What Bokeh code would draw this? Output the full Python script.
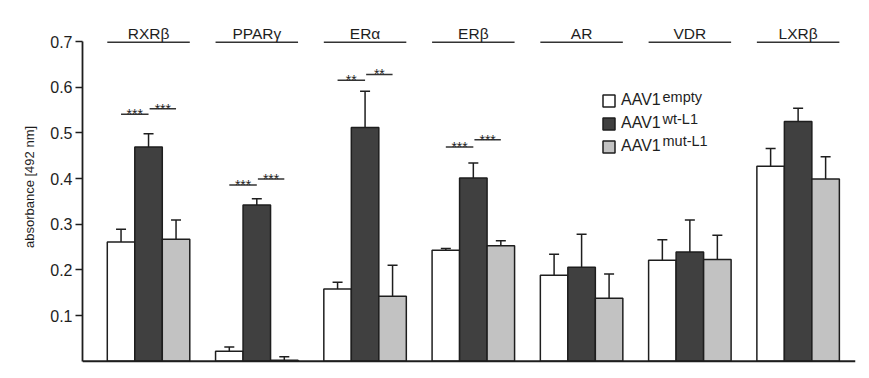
from bokeh.plotting import figure
from bokeh.models import (ColumnDataSource, Whisker, TeeHead, Span, Label, Legend,
                          LegendItem, FixedTicker, Range1d)
from bokeh.embed import file_html
from bokeh.resources import INLINE
from bokeh.core.properties import value

# ---- data ----
receptors = ["RXRβ", "PPARγ", "ERα", "ERβ", "AR", "VDR", "LXRβ"]
series_names = ["empty", "wt-L1", "mut-L1"]
empty_mean = [0.261, 0.022, 0.158, 0.243, 0.188, 0.221, 0.427]
empty_err = [0.028, 0.009, 0.015, 0.004, 0.046, 0.045, 0.039]
wt_mean = [0.469, 0.342, 0.512, 0.401, 0.206, 0.239, 0.525]
wt_err = [0.029, 0.014, 0.079, 0.033, 0.072, 0.070, 0.029]
mut_mean = [0.267, 0.002, 0.142, 0.253, 0.138, 0.223, 0.399]
mut_err = [0.042, 0.008, 0.068, 0.011, 0.053, 0.053, 0.049]

# significance brackets: group index, pair (0 = empty-wt, 1 = wt-mut), height, label
sig_group = [0, 0, 1, 1, 2, 2, 3, 3]
sig_pair = [0, 1, 0, 1, 0, 1, 0, 1]
sig_y = [0.541, 0.553, 0.386, 0.399, 0.615, 0.628, 0.469, 0.485]
sig_label = ["***", "***", "***", "***", "**", "**", "***", "***"]

y_ticks = [0.1, 0.2, 0.3, 0.4, 0.5, 0.6, 0.7]
header_y = 0.6985

# ---- styles ----
FONT = "Liberation Sans"
TXT = "#1e1e1e"
LINE = "#1e1e1e"
colors = ["#ffffff", "#404040", "#c2c2c2"]
W = 0.254
offsets = [-W, 0.0, W]

p = figure(width=861, height=370, output_backend="svg", toolbar_location=None,
           x_range=Range1d(-0.61, 6.53), y_range=Range1d(-0.005, 0.768),
           x_axis_location=None,
           min_border_left=82, min_border_right=6, min_border_top=10, min_border_bottom=7)
p.outline_line_color = None
p.xgrid.visible = False
p.ygrid.visible = False
p.background_fill_color = "white"
p.border_fill_color = "white"

means = [empty_mean, wt_mean, mut_mean]
errs = [empty_err, wt_err, mut_err]
idx = list(range(len(receptors)))
renderers = []
for s in range(3):
    xs = [i + offsets[s] for i in idx]
    src = ColumnDataSource(dict(x=xs, top=means[s],
                                upper=[m + e for m, e in zip(means[s], errs[s])]))
    r = p.vbar(x="x", top="top", bottom=0, width=W, source=src,
               fill_color=colors[s], line_color=LINE, line_width=1.5)
    renderers.append(r)
    wh = Whisker(base="x", lower="top", upper="upper", source=src,
                 line_color=LINE, line_width=1.5,
                 upper_head=TeeHead(size=10, line_color=LINE, line_width=1.5),
                 lower_head=None)
    p.add_layout(wh)

# header lines and labels
hsrc = ColumnDataSource(dict(x0=[i - 1.5 * W for i in idx], x1=[i + 1.5 * W for i in idx],
                             y=[header_y] * len(idx), xc=idx, name=receptors))
p.segment(x0="x0", x1="x1", y0="y", y1="y", source=hsrc, line_color="#333333", line_width=1.5)
p.text(x="xc", y="y", text="name", source=hsrc, text_align="center",
       text_baseline="alphabetic", y_offset=-9, text_font=value(FONT),
       text_font_size="15.5px", text_color=TXT)

# significance
sx0 = [g + (pr - 1) * W + (0.01 if pr == 1 else 0) for g, pr in zip(sig_group, sig_pair)]
sx1 = [g + pr * W for g, pr in zip(sig_group, sig_pair)]
ssrc = ColumnDataSource(dict(x0=sx0, x1=sx1, y=sig_y,
                             xm=[(a + b) / 2 for a, b in zip(sx0, sx1)], lab=sig_label))
p.segment(x0="x0", x1="x1", y0="y", y1="y", source=ssrc, line_color="#333333", line_width=1.5)
p.text(x="xm", y="y", text="lab", source=ssrc, text_align="center",
       text_baseline="alphabetic", y_offset=0, text_font=value(FONT),
       text_font_size="14px", text_color=TXT)

# baseline
p.add_layout(Span(location=0, dimension="width", line_color=LINE, line_width=2))

# y axis
ax = p.yaxis[0]
ax.ticker = FixedTicker(ticks=y_ticks)
ax.bounds = (0, 0.7)
ax.major_tick_out = 7
ax.major_tick_in = 0
ax.minor_tick_out = 0
ax.minor_tick_in = 0
ax.major_label_standoff = 3
ax.axis_line_width = 1.8
ax.axis_line_color = LINE
ax.major_tick_line_width = 1.5
ax.major_tick_line_color = LINE
ax.major_label_text_font = FONT
ax.major_label_text_font_size = "16px"
ax.major_label_text_color = TXT
ax.axis_label = "absorbance [492 nm]"
ax.axis_label_text_font = FONT
ax.axis_label_text_font_size = "13px"
ax.axis_label_text_font_style = "normal"
ax.axis_label_text_color = TXT
ax.axis_label_standoff = 10

# legend
legend = Legend(items=[LegendItem(label="AAV1", renderers=[renderers[s]]) for s in range(3)],
                location=(519, 208), glyph_width=15, glyph_height=15, label_height=17,
                spacing=5, padding=0, margin=0, label_standoff=5,
                label_text_font=FONT, label_text_font_size="16px", label_text_color=TXT,
                border_line_color=None, background_fill_alpha=0)
p.add_layout(legend)

sup_y = [266.5, 244.5, 222.8]
for s in range(3):
    p.add_layout(Label(x=580, y=sup_y[s], x_units="screen", y_units="screen",
                       text=series_names[s], text_font=FONT, text_font_size="14.5px",
                       text_color=TXT, text_baseline="alphabetic"))

open("out.html", "w").write(file_html(p, INLINE))
